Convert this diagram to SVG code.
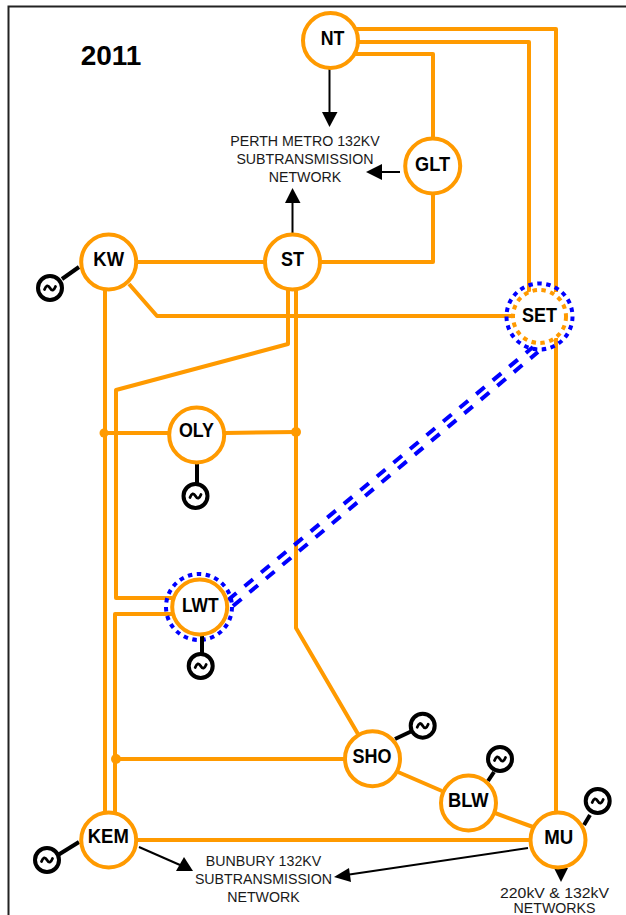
<svg xmlns="http://www.w3.org/2000/svg" width="626" height="915" viewBox="0 0 626 915">
<style>
.l{fill:none;stroke:#ff9a00;stroke-width:4;stroke-linejoin:round}
.a{fill:none;stroke:#000;stroke-width:2}
.h{fill:#000}
.g{fill:none;stroke:#000;stroke-width:4}
.gl{fill:none;stroke:#000;stroke-width:4}
.w{fill:none;stroke:#000;stroke-width:2.800;stroke-linecap:round}
.b{fill:none;stroke:#0000ff;stroke-width:4;stroke-dasharray:11 10.500}
.c{fill:#fff;stroke:#ff9a00;stroke-width:4}
.cd{fill:#fff;stroke:#ff9a00;stroke-width:4;stroke-dasharray:4.500 4.500}
.bd{fill:none;stroke:#0000ff;stroke-width:4;stroke-dasharray:4.500 4.500}
.n{font-family:"Liberation Sans",Arial,sans-serif;font-weight:bold;font-size:21px;text-anchor:middle;fill:#000}
.t{font-family:"Liberation Sans",Arial,sans-serif;font-size:14.200px;text-anchor:middle;fill:#1a1a1a}
.d{fill:#ff9a00}
</style>
<path d="M8.500 920V6.500H630" fill="none" stroke="#222" stroke-width="2"/>
<text x="111" y="65" font-family="Liberation Sans,Arial,sans-serif" font-weight="bold" font-size="28" text-anchor="middle">2011</text>
<g id="connectors">
<path class="l" d="M356 29H556V292M556 338V812"/>
<path class="l" d="M358 42H529V294"/>
<path class="l" d="M355 54H433V140"/>
<path class="l" d="M433 192V262H320"/>
<path class="l" d="M136 262H265"/>
<path class="l" d="M129 284L157 316H514"/>
<path class="l" d="M105 288V812"/>
<path class="l" d="M288 290V344L116 390V598H172"/>
<path class="l" d="M296 290V628L358 734"/>
<path class="l" d="M172 614H115V812"/>
<path class="l" d="M168 433L104 433"/>
<path class="l" d="M225 433L296 432"/>
<path class="l" d="M116 759H345"/>
<path class="l" d="M136 840H530"/>
<path class="l" d="M398 772L442 791"/>
<path class="l" d="M495 813L533 827"/>
<circle class="d" cx="104" cy="433" r="4.500"/>
<circle class="d" cx="296" cy="432" r="5"/>
<circle class="d" cx="116" cy="759" r="5"/>
<path class="b" d="M228 600L533 347"/>
<path class="b" d="M233 606L538 352"/>
<path class="a" d="M329.500 69V114"/><path class="h" d="M322 112H337.500L329.500 127Z"/>
<path class="a" d="M292.500 233V201"/><path class="h" d="M285 203H300.500L292.500 188Z"/>
<path class="a" d="M400 172H380"/><path class="h" d="M382 164V180L366 172Z"/>
<path class="a" d="M139 847L180 865"/><path class="h" d="M184 857L176 871L193 871Z"/>
<path class="a" d="M528 848L346 875"/><path class="h" d="M349 868L351 882L334 877Z"/>
<path class="h" d="M554 868H568L561 882Z"/>
</g>
<g id="KW"><path class="gl" d="M79 267L62 279"/><circle class="g" cx="50" cy="288" r="12"/><path class="w" d="M44.500 289.500Q47 283 50 288T55.500 286.500"/><circle class="c" cx="108.700" cy="262" r="27.500"/><text class="n" x="108.700" y="266" textLength="30.700" lengthAdjust="spacingAndGlyphs">KW</text></g>
<g id="ST"><circle class="c" cx="292.500" cy="262" r="27.500"/><text class="n" x="292.500" y="266" textLength="23" lengthAdjust="spacingAndGlyphs">ST</text></g>
<g id="NT"><circle class="c" cx="330.500" cy="40.500" r="27.500"/><text class="n" x="332.500" y="45" textLength="23.700" lengthAdjust="spacingAndGlyphs">NT</text></g>
<g id="GLT"><circle class="c" cx="432.700" cy="166" r="27.500"/><text class="n" x="432.500" y="170.700" textLength="35" lengthAdjust="spacingAndGlyphs">GLT</text></g>
<g id="SET"><circle class="bd" cx="539.500" cy="316.500" r="33"/><circle class="cd" cx="539.500" cy="316.500" r="26.500"/><text class="n" x="539.500" y="321.700" textLength="35" lengthAdjust="spacingAndGlyphs">SET</text></g>
<g id="OLY"><path class="gl" d="M197 464V484"/><circle class="g" cx="195.500" cy="496" r="12"/><path class="w" d="M190 497.500Q192.500 491 195.500 496T201 494.500"/><circle class="c" cx="196.700" cy="435" r="27.500"/><text class="n" x="196.500" y="437.300" textLength="35" lengthAdjust="spacingAndGlyphs">OLY</text></g>
<g id="LWT"><circle class="bd" cx="199" cy="607" r="33"/><path class="gl" d="M202 636V654"/><circle class="g" cx="200.700" cy="666" r="12"/><path class="w" d="M195.200 667.500Q197.700 661 200.700 666T206.200 664.500"/><circle class="c" cx="199.700" cy="607" r="27.500"/><text class="n" x="200.300" y="611.700" textLength="36.700" lengthAdjust="spacingAndGlyphs">LWT</text></g>
<g id="SHO"><path class="gl" d="M395 739L412 731"/><circle class="g" cx="422.700" cy="725.700" r="12"/><path class="w" d="M417.200 727.200Q419.700 720.700 422.700 725.700T428.200 724.200"/><circle class="c" cx="372.500" cy="758.700" r="27.500"/><text class="n" x="372" y="762.700" textLength="39" lengthAdjust="spacingAndGlyphs">SHO</text></g>
<g id="BLW"><path class="gl" d="M488 781L494 772"/><circle class="g" cx="500" cy="759" r="12"/><path class="w" d="M494.500 760.500Q497 754 500 759T505.500 757.500"/><circle class="c" cx="468.500" cy="803" r="27.500"/><text class="n" x="468.300" y="806.700" textLength="40.700" lengthAdjust="spacingAndGlyphs">BLW</text></g>
<g id="KEM"><path class="gl" d="M79 842L58 855"/><circle class="g" cx="47" cy="860" r="12"/><path class="w" d="M41.500 861.500Q44 855 47 860T52.500 858.500"/><circle class="c" cx="108.700" cy="840" r="27.500"/><text class="n" x="108.300" y="842.700" textLength="41" lengthAdjust="spacingAndGlyphs">KEM</text></g>
<g id="MU"><path class="gl" d="M584 825L590 815"/><circle class="g" cx="597.700" cy="801" r="12"/><path class="w" d="M592.200 802.500Q594.700 796 597.700 801T603.200 799.500"/><circle class="c" cx="558" cy="840" r="27.500"/><text class="n" x="558.800" y="844" textLength="29" lengthAdjust="spacingAndGlyphs">MU</text></g>
<g id="labels">
<text class="t" x="305" y="146">PERTH METRO 132KV</text>
<text class="t" x="305" y="164">SUBTRANSMISSION</text>
<text class="t" x="305" y="182">NETWORK</text>
<text class="t" x="263.500" y="866">BUNBURY 132KV</text>
<text class="t" x="263.500" y="884">SUBTRANSMISSION</text>
<text class="t" x="263.500" y="902">NETWORK</text>
<text class="t" x="554.500" y="898" textLength="109" lengthAdjust="spacingAndGlyphs">220kV &amp; 132kV</text>
<text class="t" x="554.500" y="913">NETWORKS</text>
</g>
</svg>
